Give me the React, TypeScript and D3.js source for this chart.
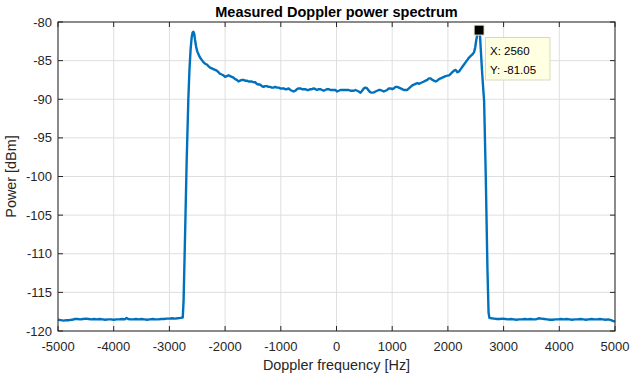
import React from "react";
import * as d3 from "d3";

const freqHz: number[] = [
  -5000, -4950, -4900, -4850, -4800, -4750, -4700, -4650, -4600, -4550, -4500, -4450, -4400, -4350, -4300, -4250,
  -4200, -4150, -4100, -4050, -4000, -3950, -3900, -3850, -3800, -3770, -3740, -3700, -3650, -3600, -3550, -3500,
  -3450, -3400, -3350, -3300, -3250, -3200, -3150, -3100, -3050, -3000, -2950, -2900, -2850, -2800, -2760, -2745,
  -2720, -2690, -2660, -2640, -2620, -2600, -2585, -2570, -2555, -2540, -2520, -2500, -2470, -2450, -2420, -2390,
  -2360, -2330, -2300, -2270, -2240, -2210, -2180, -2150, -2120, -2090, -2060, -2030, -2000, -1970, -1940, -1910,
  -1880, -1850, -1820, -1790, -1760, -1730, -1700, -1670, -1640, -1610, -1580, -1550, -1520, -1490, -1460, -1430,
  -1400, -1370, -1340, -1310, -1280, -1250, -1220, -1190, -1160, -1130, -1100, -1070, -1040, -1010, -980, -950,
  -920, -890, -860, -830, -800, -770, -740, -710, -680, -650, -620, -590, -560, -530, -500, -470,
  -440, -410, -380, -350, -320, -290, -260, -230, -200, -170, -140, -110, -80, -50, -20, 10,
  40, 70, 100, 130, 160, 190, 220, 250, 280, 310, 340, 370, 400, 430, 460, 490,
  520, 550, 580, 610, 640, 670, 700, 730, 760, 790, 820, 850, 880, 910, 940, 970,
  1000, 1030, 1060, 1090, 1120, 1150, 1180, 1210, 1240, 1270, 1300, 1330, 1360, 1390, 1420, 1450,
  1480, 1510, 1540, 1570, 1600, 1630, 1660, 1690, 1720, 1750, 1780, 1810, 1840, 1870, 1900, 1930,
  1960, 1990, 2020, 2050, 2080, 2110, 2140, 2170, 2200, 2230, 2260, 2290, 2320, 2350, 2380, 2410,
  2440, 2470, 2490, 2510, 2530, 2545, 2560, 2575, 2590, 2610, 2630, 2650, 2680, 2710, 2730, 2745,
  2780, 2830, 2880, 2930, 2980, 3030, 3080, 3130, 3180, 3230, 3280, 3330, 3380, 3430, 3480, 3530,
  3580, 3630, 3680, 3730, 3780, 3830, 3880, 3930, 3980, 4030, 4080, 4130, 4180, 4230, 4280, 4330,
  4380, 4430, 4480, 4530, 4580, 4630, 4680, 4730, 4780, 4830, 4880, 4930, 4960, 5000,
];

const powerDbm: number[] = [
  -118.55, -118.6, -118.65, -118.6, -118.6, -118.55, -118.45, -118.45, -118.5, -118.45, -118.4, -118.45, -118.5, -118.45, -118.5, -118.45,
  -118.5, -118.55, -118.5, -118.5, -118.55, -118.5, -118.5, -118.45, -118.5, -118.3, -118.45, -118.5, -118.5, -118.45, -118.5, -118.45,
  -118.5, -118.55, -118.5, -118.45, -118.5, -118.5, -118.45, -118.45, -118.4, -118.4, -118.35, -118.4, -118.35, -118.3, -118.25, -116,
  -108, -98, -90, -86.2, -83.6, -82.0, -81.4, -81.25, -81.5, -82.3, -83.2, -83.8, -84.3, -84.6, -84.9, -85.2,
  -85.4, -85.5, -85.7, -85.9, -86.0, -86.1, -86.2, -86.3, -86.5, -86.7, -86.8, -86.9, -87.1, -87.0, -86.9, -87.0,
  -87.1, -87.2, -87.4, -87.5, -87.7, -87.6, -87.5, -87.5, -87.6, -87.6, -87.7, -87.7, -87.7, -87.8, -87.8, -88.0,
  -88.1, -88.1, -88.3, -88.4, -88.3, -88.3, -88.4, -88.4, -88.5, -88.5, -88.4, -88.5, -88.5, -88.6, -88.6, -88.6,
  -88.7, -88.7, -88.6, -88.8, -88.9, -89.0, -88.9, -88.7, -88.6, -88.6, -88.7, -88.7, -88.7, -88.8, -88.8, -88.7,
  -88.7, -88.6, -88.7, -88.8, -88.7, -88.7, -88.8, -88.9, -88.8, -88.7, -88.7, -88.8, -88.8, -88.8, -88.8, -89.0,
  -88.9, -88.8, -88.8, -88.8, -88.8, -88.8, -88.8, -88.9, -88.9, -88.9, -88.8, -88.9, -89.0, -89.15, -88.9, -88.6,
  -88.5, -88.6, -88.9, -89.1, -89.15, -89.1, -89.0, -88.9, -88.8, -88.8, -88.9, -89.0, -88.9, -88.8, -88.6, -88.6,
  -88.7, -88.6, -88.4, -88.4, -88.5, -88.6, -88.7, -88.8, -88.8, -88.8, -88.6, -88.4, -88.2, -88.1, -88.0, -87.9,
  -88.0, -87.9, -87.8, -87.7, -87.6, -87.5, -87.3, -87.3, -87.5, -87.6, -87.7, -87.6, -87.4, -87.3, -87.2, -87.1,
  -87.0, -86.95, -86.9, -86.7, -86.5, -86.3, -86.2, -86.5, -86.4, -86.1, -85.8, -85.5, -85.2, -84.9, -84.6, -84.4,
  -84.2, -83.9, -83.3, -82.3, -81.6, -81.2, -81.05, -81.6, -83.5, -86, -88.2, -90.2, -100, -112, -117.6, -118.3,
  -118.35, -118.4, -118.45, -118.45, -118.4, -118.45, -118.5, -118.45, -118.5, -118.55, -118.5, -118.5, -118.45, -118.5, -118.45, -118.5,
  -118.5, -118.35, -118.4, -118.45, -118.5, -118.55, -118.55, -118.5, -118.5, -118.45, -118.5, -118.45, -118.5, -118.55, -118.5, -118.5,
  -118.45, -118.5, -118.55, -118.5, -118.45, -118.5, -118.5, -118.45, -118.5, -118.55, -118.5, -118.6, -118.7, -118.8,
];

const xTicks: number[] = [-5000, -4000, -3000, -2000, -1000, 0, 1000, 2000, 3000, 4000, 5000];
const yTicks: number[] = [-80, -85, -90, -95, -100, -105, -110, -115, -120];

const tipX = 2560;
const tipY = -81.05;

const W = 630;
const H = 381;
const M = { left: 58, right: 615, top: 22, bottom: 331 };
const FONT = "'Liberation Sans', Arial, Helvetica, sans-serif";
const AXIS_COLOR = "#262626";
const GRID_COLOR = "#dfdfdf";
const LINE_COLOR = "#0072BD";

export default function App() {
  const x = d3.scaleLinear().domain([-5000, 5000]).range([M.left, M.right]);
  const y = d3.scaleLinear().domain([-120, -80]).range([M.bottom, M.top]);
  const pts: [number, number][] = freqHz.map((f, i) => [f, powerDbm[i]]);
  const line = d3
    .line<[number, number]>()
    .x((d) => x(d[0]))
    .y((d) => y(d[1]))
    .curve(d3.curveLinear);
  const tl = 5;
  const mx = x(tipX);
  const my = y(tipY);
  return (
    <svg
      width={W}
      height={H}
      style={{ position: "fixed", left: 0, top: 0, background: "#fff" }}
      fontFamily={FONT}
    >
      <rect x={0} y={0} width={W} height={H} fill="#fff" />
      {xTicks.map((t) => (
        <line key={"gx" + t} x1={x(t)} x2={x(t)} y1={M.top} y2={M.bottom} stroke={GRID_COLOR} strokeWidth={1} />
      ))}
      {yTicks.map((t) => (
        <line key={"gy" + t} x1={M.left} x2={M.right} y1={y(t)} y2={y(t)} stroke={GRID_COLOR} strokeWidth={1} />
      ))}
      <path d={line(pts) || ""} fill="none" stroke={LINE_COLOR} strokeWidth={2.4} strokeLinejoin="round" />
      <rect x={M.left} y={M.top} width={M.right - M.left} height={M.bottom - M.top} fill="none" stroke={AXIS_COLOR} strokeWidth={1} />
      {xTicks.map((t) => (
        <g key={"tx" + t}>
          <line x1={x(t)} x2={x(t)} y1={M.bottom} y2={M.bottom - tl} stroke={AXIS_COLOR} />
          <line x1={x(t)} x2={x(t)} y1={M.top} y2={M.top + tl} stroke={AXIS_COLOR} />
          <text x={x(t)} y={M.bottom + 20} textAnchor="middle" fontSize={13} fill={AXIS_COLOR}>
            {t}
          </text>
        </g>
      ))}
      {yTicks.map((t) => (
        <g key={"ty" + t}>
          <line x1={M.left} x2={M.left + tl} y1={y(t)} y2={y(t)} stroke={AXIS_COLOR} />
          <line x1={M.right} x2={M.right - tl} y1={y(t)} y2={y(t)} stroke={AXIS_COLOR} />
          <text x={52} y={y(t) + 4.5} textAnchor="end" fontSize={13} fill={AXIS_COLOR}>
            {t}
          </text>
        </g>
      ))}
      <text x={(M.left + M.right) / 2} y={17} textAnchor="middle" fontSize={14.5} fontWeight="bold" fill="#000">
        Measured Doppler power spectrum
      </text>
      <text x={(M.left + M.right) / 2} y={370} textAnchor="middle" fontSize={14.4} fill={AXIS_COLOR}>
        Doppler frequency [Hz]
      </text>
      <text
        transform={`translate(16, ${(M.top + M.bottom) / 2}) rotate(-90)`}
        textAnchor="middle"
        fontSize={14.4}
        fill={AXIS_COLOR}
      >
        Power [dBm]
      </text>
      <rect x={485.5} y={37.5} width={64.5} height={42.5} fill="#ffffe1" stroke="#d8d8c0" strokeWidth={1} />
      <text x={490} y={55} fontSize={11.5} fill="#000">
        X: 2560
      </text>
      <text x={490} y={74} fontSize={11.5} fill="#000">
        Y: -81.05
      </text>
      <rect x={mx - 5} y={my - 5} width={10} height={10} fill="#000" stroke="#f2f2d0" strokeWidth={1} />
    </svg>
  );
}
